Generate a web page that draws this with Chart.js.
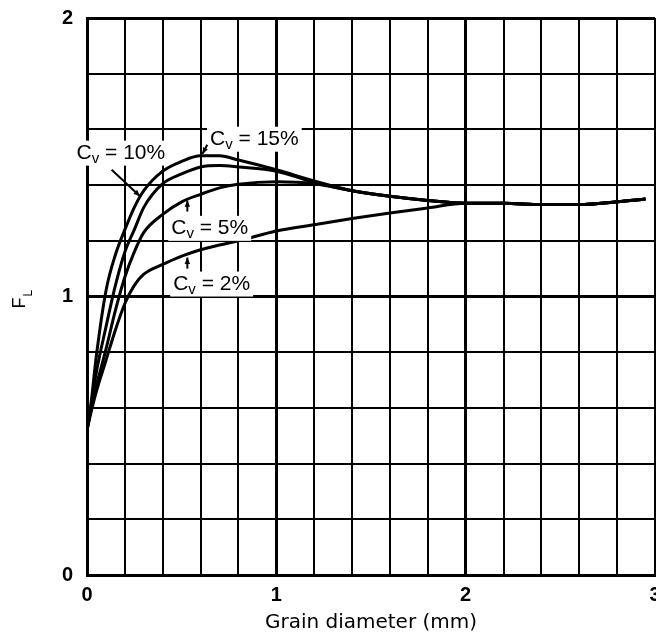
<!DOCTYPE html>
<html>
<head>
<meta charset="utf-8">
<title>F_L vs grain diameter</title>
<script src="https://cdn.jsdelivr.net/npm/chart.js@4.4.1/dist/chart.umd.min.js"></script>
<style>
  html, body { margin: 0; padding: 0; background: #fff; }
</style>
</head>
<body>
<canvas id="myChart" width="656" height="643"></canvas>
<script>
// grain diameter (mm), shared by all curves
const grainDiameter = [0, 0.02, 0.05, 0.1, 0.15, 0.2, 0.25, 0.3, 0.4, 0.5, 0.6, 0.7, 0.8, 1.0, 1.2, 1.4, 1.6, 1.8, 2.0, 2.2, 2.4, 2.6, 2.8, 2.95];

// F_L for each concentration
const fl15 = [0.52, 0.61, 0.79, 1.02, 1.15, 1.24, 1.32, 1.38, 1.45, 1.485, 1.505, 1.505, 1.49, 1.455, 1.415, 1.38, 1.36, 1.345, 1.335, 1.335, 1.33, 1.33, 1.34, 1.35];
const fl10 = [0.52, 0.60, 0.73, 0.89, 1.04, 1.16, 1.24, 1.32, 1.405, 1.44, 1.465, 1.47, 1.465, 1.45, 1.41, 1.38, 1.36, 1.345, 1.335, 1.335, 1.33, 1.33, 1.34, 1.35];
const fl5  = [0.52, 0.59, 0.68, 0.81, 0.95, 1.07, 1.16, 1.23, 1.295, 1.34, 1.367, 1.39, 1.403, 1.412, 1.405, 1.38, 1.36, 1.345, 1.335, 1.335, 1.33, 1.33, 1.34, 1.35];
const fl2  = [0.52, 0.58, 0.66, 0.77, 0.88, 0.975, 1.04, 1.08, 1.115, 1.145, 1.168, 1.185, 1.2, 1.235, 1.258, 1.28, 1.30, 1.318, 1.335, 1.335, 1.33, 1.33, 1.34, 1.35];

const curveNames = ['15%', '10%', '5%', '2%'];
const xTickLabels = ['0', '1', '2', '3'];
const yTickLabels = ['0', '1', '2'];

const FONT = '"Liberation Sans", Arial, Helvetica, sans-serif';

function isWhole(v) {
    return Math.abs(v - Math.round(v)) < 1e-6;
}

function toPoints(ys) {
    return grainDiameter.map((x, i) => ({ x: x, y: ys[i] }));
}

// where the C_v labels and their little leader arrows sit (data units)
const notes = [
    { pct: '15%', x: 0.65, y: 1.545, from: [0.635, 1.545], to: [0.61, 1.512] },
    { pct: '10%', x: -0.055, y: 1.495, from: [0.13, 1.455], to: [0.28, 1.36] },
    { pct: '5%', x: 0.445, y: 1.225, from: [0.53, 1.305], to: [0.53, 1.345] },
    { pct: '2%', x: 0.455, y: 1.025, from: [0.53, 1.10], to: [0.53, 1.14] }
];

function drawArrow(ctx, x1, y1, x2, y2) {
    ctx.beginPath();
    ctx.moveTo(x1, y1);
    ctx.lineTo(x2, y2);
    ctx.lineWidth = 2;
    ctx.strokeStyle = '#000';
    ctx.stroke();
    const a = Math.atan2(y2 - y1, x2 - x1);
    const len = 7;
    ctx.beginPath();
    ctx.moveTo(x2, y2);
    ctx.lineTo(x2 - len * Math.cos(a - 0.4), y2 - len * Math.sin(a - 0.4));
    ctx.lineTo(x2 - len * Math.cos(a + 0.4), y2 - len * Math.sin(a + 0.4));
    ctx.closePath();
    ctx.fillStyle = '#000';
    ctx.fill();
}

function drawCv(ctx, px, py, pct) {
    ctx.textBaseline = 'alphabetic';
    ctx.textAlign = 'left';
    ctx.font = '21px ' + FONT;
    const wC = ctx.measureText('C').width;
    const rest = ' = ' + pct;
    const wr = ctx.measureText(rest).width;
    ctx.font = '15px ' + FONT;
    const wv = ctx.measureText('v').width;
    ctx.fillStyle = '#fff';
    ctx.fillRect(px - 3, py - 18, wC + wv + wr + 6, 25);
    ctx.fillStyle = '#000';
    ctx.font = '21px ' + FONT;
    ctx.fillText('C', px, py);
    ctx.font = '15px ' + FONT;
    ctx.fillText('v', px + wC, py + 4);
    ctx.font = '21px ' + FONT;
    ctx.fillText(rest, px + wC + wv, py);
}

const notesPlugin = {
    id: 'notes',
    afterDatasetsDraw(chart) {
        const ctx = chart.ctx;
        const xs = chart.scales.x, ys = chart.scales.y;
        ctx.save();
        notes.forEach(n => {
            drawCv(ctx, xs.getPixelForValue(n.x), ys.getPixelForValue(n.y), n.pct);
            drawArrow(ctx,
                xs.getPixelForValue(n.from[0]), ys.getPixelForValue(n.from[1]),
                xs.getPixelForValue(n.to[0]), ys.getPixelForValue(n.to[1]));
        });
        // y axis title: F with subscript L, rotated
        const cy = (chart.chartArea.top + chart.chartArea.bottom) / 2;
        ctx.translate(25, cy + 12);
        ctx.rotate(-Math.PI / 2);
        ctx.fillStyle = '#000';
        ctx.textAlign = 'left';
        ctx.textBaseline = 'alphabetic';
        ctx.font = '18px ' + FONT;
        const wF = ctx.measureText('F').width;
        ctx.fillText('F', 0, 0);
        ctx.font = '12px ' + FONT;
        ctx.fillText('L', wF + 1, 7);
        ctx.restore();
    }
};

const gridWidth = c => (c.tick && isWhole(c.tick.value)) ? 3 : 2;

const ctx = document.getElementById('myChart').getContext('2d');
const myChart = new Chart(ctx, {
    type: 'line',
    data: {
        datasets: [fl15, fl10, fl5, fl2].map((ys, i) => ({
            label: 'Cv = ' + curveNames[i],
            data: toPoints(ys),
            borderColor: '#000',
            borderWidth: 3,
            pointRadius: 0,
            fill: false,
            cubicInterpolationMode: 'monotone'
        }))
    },
    options: {
        responsive: false,
        animation: false,
        devicePixelRatio: 1,
        layout: { padding: { top: 18, right: 1, bottom: 0, left: 0 } },
        plugins: {
            legend: { display: false },
            tooltip: { enabled: false }
        },
        scales: {
            x: {
                type: 'linear',
                min: 0,
                max: 3,
                ticks: {
                    stepSize: 0.2,
                    autoSkip: false,
                    maxRotation: 0,
                    padding: 8,
                    color: '#000',
                    font: { family: FONT, size: 20, weight: 'bold' },
                    callback: v => isWhole(v) ? xTickLabels[Math.round(v)] : ''
                },
                grid: { color: '#000', lineWidth: gridWidth, drawTicks: false },
                border: { display: true, color: '#000', width: 3 },
                title: {
                    display: true,
                    text: 'Grain diameter (mm)',
                    color: '#000',
                    font: { family: '"DejaVu Sans", ' + FONT, size: 20 },
                    padding: { top: 4, bottom: 8 }
                },
                afterFit: s => { s.height = 68; s.paddingLeft = 0; s.paddingRight = 0; }
            },
            y: {
                type: 'linear',
                min: 0,
                max: 2,
                ticks: {
                    stepSize: 0.2,
                    autoSkip: false,
                    padding: 14,
                    color: '#000',
                    font: { family: FONT, size: 20, weight: 'bold' },
                    callback: v => isWhole(v) ? yTickLabels[Math.round(v)] : ''
                },
                grid: { color: '#000', lineWidth: gridWidth, drawTicks: false },
                border: { display: true, color: '#000', width: 3 },
                afterFit: s => { s.width = 87; s.paddingTop = 0; s.paddingBottom = 0; }
            }
        }
    },
    plugins: [notesPlugin]
});
</script>
</body>
</html>
